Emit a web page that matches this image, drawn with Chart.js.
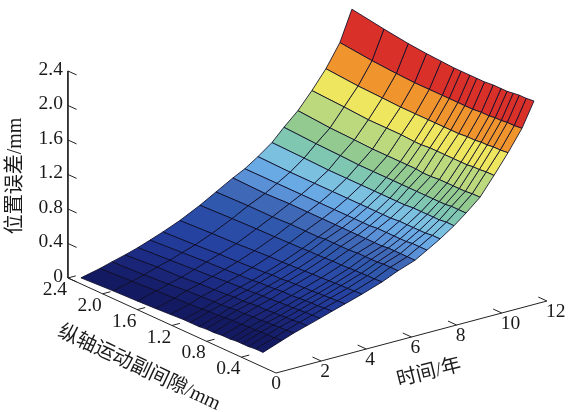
<!DOCTYPE html>
<html>
<head>
<meta charset="utf-8">
<title>位置误差曲面</title>
<script src="https://cdn.jsdelivr.net/npm/chart.js@4/dist/chart.umd.min.js"></script>
<style>
  html, body { margin: 0; padding: 0; background: #fff; }
  canvas { display: block; }
</style>
</head>
<body>
<canvas id="surface" width="568" height="412"></canvas>
<script>
// mesh lines of the surface
const times = [0, 0.84, 1.37, 1.95, 2.52, 3.06, 3.63, 4.38, 5.27, 5.98, 6.73, 7.26, 7.84, 8.46, 8.99, 9.61, 10.23, 10.85, 11.47, 12];
const gaps = [2.25, 1.88, 1.6, 1.39, 1.22, 1.07, 0.99, 0.89, 0.81, 0.72, 0.62, 0.53, 0.46, 0.39, 0.32, 0.24, 0.15];

// position error (mm): one row per time, one column per gap
const errors = [
  [0.07, 0.09, 0.10, 0.11, 0.12, 0.13, 0.13, 0.13, 0.14, 0.14, 0.15, 0.15, 0.16, 0.16, 0.16, 0.17, 0.17],
  [0.12, 0.14, 0.16, 0.17, 0.18, 0.19, 0.20, 0.20, 0.21, 0.22, 0.22, 0.23, 0.23, 0.24, 0.24, 0.24, 0.25],
  [0.16, 0.18, 0.20, 0.22, 0.23, 0.24, 0.24, 0.25, 0.26, 0.26, 0.27, 0.27, 0.28, 0.28, 0.29, 0.29, 0.30],
  [0.20, 0.23, 0.24, 0.26, 0.27, 0.28, 0.29, 0.29, 0.30, 0.31, 0.31, 0.32, 0.32, 0.33, 0.33, 0.34, 0.345],
  [0.245, 0.27, 0.29, 0.305, 0.32, 0.33, 0.33, 0.34, 0.345, 0.35, 0.36, 0.365, 0.37, 0.375, 0.38, 0.385, 0.39],
  [0.295, 0.32, 0.34, 0.35, 0.36, 0.37, 0.38, 0.385, 0.39, 0.40, 0.40, 0.41, 0.415, 0.42, 0.42, 0.43, 0.435],
  [0.35, 0.37, 0.39, 0.40, 0.41, 0.42, 0.43, 0.43, 0.44, 0.445, 0.45, 0.455, 0.46, 0.465, 0.47, 0.475, 0.48],
  [0.43, 0.45, 0.46, 0.475, 0.485, 0.49, 0.495, 0.50, 0.505, 0.51, 0.515, 0.52, 0.525, 0.53, 0.53, 0.535, 0.54],
  [0.545, 0.56, 0.57, 0.575, 0.58, 0.585, 0.59, 0.59, 0.595, 0.60, 0.60, 0.605, 0.61, 0.61, 0.615, 0.615, 0.62],
  [0.65, 0.66, 0.66, 0.67, 0.67, 0.67, 0.68, 0.68, 0.68, 0.68, 0.69, 0.69, 0.69, 0.69, 0.70, 0.70, 0.70],
  [0.76, 0.75, 0.76, 0.76, 0.76, 0.76, 0.76, 0.76, 0.76, 0.76, 0.76, 0.76, 0.77, 0.77, 0.77, 0.77, 0.77],
  [0.83, 0.83, 0.83, 0.83, 0.83, 0.83, 0.83, 0.83, 0.83, 0.84, 0.84, 0.84, 0.84, 0.84, 0.85, 0.85, 0.85],
  [0.93, 0.92, 0.92, 0.92, 0.92, 0.92, 0.92, 0.92, 0.92, 0.92, 0.93, 0.93, 0.93, 0.93, 0.93, 0.94, 0.94],
  [1.05, 1.04, 1.03, 1.03, 1.03, 1.03, 1.03, 1.03, 1.03, 1.03, 1.04, 1.04, 1.04, 1.04, 1.04, 1.05, 1.05],
  [1.19, 1.17, 1.16, 1.15, 1.15, 1.15, 1.15, 1.15, 1.15, 1.15, 1.15, 1.15, 1.15, 1.15, 1.16, 1.16, 1.16],
  [1.34, 1.31, 1.30, 1.29, 1.29, 1.29, 1.29, 1.29, 1.28, 1.28, 1.29, 1.29, 1.29, 1.29, 1.29, 1.30, 1.30],
  [1.53, 1.51, 1.49, 1.49, 1.49, 1.48, 1.48, 1.49, 1.49, 1.49, 1.49, 1.49, 1.49, 1.50, 1.50, 1.51, 1.51],
  [1.74, 1.71, 1.70, 1.69, 1.69, 1.69, 1.69, 1.69, 1.69, 1.69, 1.70, 1.70, 1.71, 1.71, 1.72, 1.72, 1.73],
  [2.00, 1.96, 1.94, 1.93, 1.93, 1.93, 1.93, 1.93, 1.93, 1.93, 1.94, 1.94, 1.95, 1.95, 1.96, 1.96, 1.97],
  [2.35, 2.29, 2.25, 2.23, 2.22, 2.21, 2.21, 2.21, 2.21, 2.21, 2.22, 2.22, 2.22, 2.23, 2.24, 2.24, 2.25],
];

const errorTicks = [0, 0.4, 0.8, 1.2, 1.6, 2.0, 2.4];
const errorTickLabels = ["0", "0.4", "0.8", "1.2", "1.6", "2.0", "2.4"];
const gapTicks = [2.4, 2.0, 1.6, 1.2, 0.8, 0.4];
const gapTickLabels = ["2.4", "2.0", "1.6", "1.2", "0.8", "0.4"];
const timeTicks = [2, 4, 6, 8, 10, 12];
const timeTickLabels = ["2", "4", "6", "8", "10", "12"];

// one colour per band of cells, low time to high time
const BAND_COLORS = [
  "#141a62", "#161f6c", "#1a2578", "#1c2c84", "#1f338e", "#223a98", "#2642a0",
  "#2a4ca6", "#3058ac", "#3f68b6", "#5a90d6", "#6aaae4", "#7cc0e0", "#7fc7b0",
  "#93ca8f", "#bcd97e", "#eee65e", "#f0942e", "#d9302a",
];
const AXIS_COLOR = "#222";
const MESH_COLOR = "rgba(12,12,40,0.85)";
const FONT = '"Liberation Serif", "Noto Sans CJK SC", serif';

// fixed oblique view of the box: (time, gap, error) -> picture plane
function project(t, g, e) {
  return {
    x: 276 + 22.58 * t - 86.7 * g,
    y: 373 - 6.0 * t - 39.6 * g - 86.25 * e,
  };
}

function cellDataset(i, j) {
  const corners = [
    project(times[i], gaps[j], errors[i][j]),
    project(times[i], gaps[j + 1], errors[i][j + 1]),
    project(times[i + 1], gaps[j + 1], errors[i + 1][j + 1]),
    project(times[i + 1], gaps[j], errors[i + 1][j]),
    project(times[i], gaps[j], errors[i][j]),
  ];
  return {
    data: corners,
    showLine: true,
    fill: "shape",
    backgroundColor: BAND_COLORS[i],
    borderColor: MESH_COLOR,
    borderWidth: 1,
    pointRadius: 0,
    tension: 0,
  };
}

function axisDataset(points) {
  return {
    data: points,
    showLine: true,
    fill: false,
    borderColor: AXIS_COLOR,
    borderWidth: 1,
    pointRadius: 0,
    tension: 0,
  };
}

function buildDatasets() {
  const sets = [];
  for (let i = 0; i < times.length - 1; i++) {
    for (let j = 0; j < gaps.length - 1; j++) {
      sets.push(cellDataset(i, j));
    }
  }
  // the three box edges
  sets.push(axisDataset([project(0, 2.4, 2.4), project(0, 2.4, 0), project(0, 0, 0), project(12, 0, 0)]));
  errorTicks.forEach((e) => sets.push(axisDataset([project(0, 2.4, e), project(0, 2.3, e)])));
  gapTicks.forEach((g) => sets.push(axisDataset([project(0, g, 0), project(0.35, g, 0)])));
  timeTicks.forEach((t) => sets.push(axisDataset([project(t, 0, 0), project(t, 0.1, 0)])));
  return sets;
}

const axisText = {
  id: "axisText",
  afterDraw(chart) {
    const { ctx, scales } = chart;
    const px = (p) => ({ x: scales.x.getPixelForValue(p.x), y: scales.y.getPixelForValue(p.y) });

    function put(text, x, y, align, size, angle) {
      ctx.save();
      ctx.translate(x, y);
      if (angle) ctx.rotate((angle * Math.PI) / 180);
      ctx.font = `${size}px ${FONT}`;
      ctx.textAlign = align;
      ctx.textBaseline = "middle";
      ctx.fillStyle = "#1a1a1a";
      ctx.fillText(text, 0, 0);
      ctx.restore();
    }

    errorTicks.forEach((e, i) => {
      const p = px(project(0, 2.4, e));
      put(errorTickLabels[i], p.x - 5, p.y - 1.5, "right", 19.5);
    });
    gapTicks.forEach((g, i) => {
      const p = px(project(0, g, 0));
      put(gapTickLabels[i], p.x - 13, p.y + 12, "center", 19.5);
    });
    timeTicks.forEach((t, i) => {
      const p = px(project(t, 0, 0));
      put(timeTickLabels[i], p.x - 1, p.y + 11, "left", 19.5);
    });
    const origin = px(project(0, 0, 0));
    put("0", origin.x, origin.y + 11, "center", 19.5);

    put("位置误差/mm", 16, 176, "center", 20, -90);
    put("纵轴运动副间隙/mm", 139, 368, "center", 20, 25);
    put("时间/年", 429, 373, "center", 20, -14);
  },
};

new Chart(document.getElementById("surface"), {
  type: "scatter",
  data: { datasets: buildDatasets() },
  options: {
    responsive: false,
    animation: false,
    layout: { padding: 0 },
    plugins: { legend: { display: false }, tooltip: { enabled: false } },
    scales: {
      x: { type: "linear", min: 0, max: 568, display: false },
      y: { type: "linear", min: 0, max: 412, reverse: true, display: false },
    },
  },
  plugins: [axisText],
});
</script>
</body>
</html>
